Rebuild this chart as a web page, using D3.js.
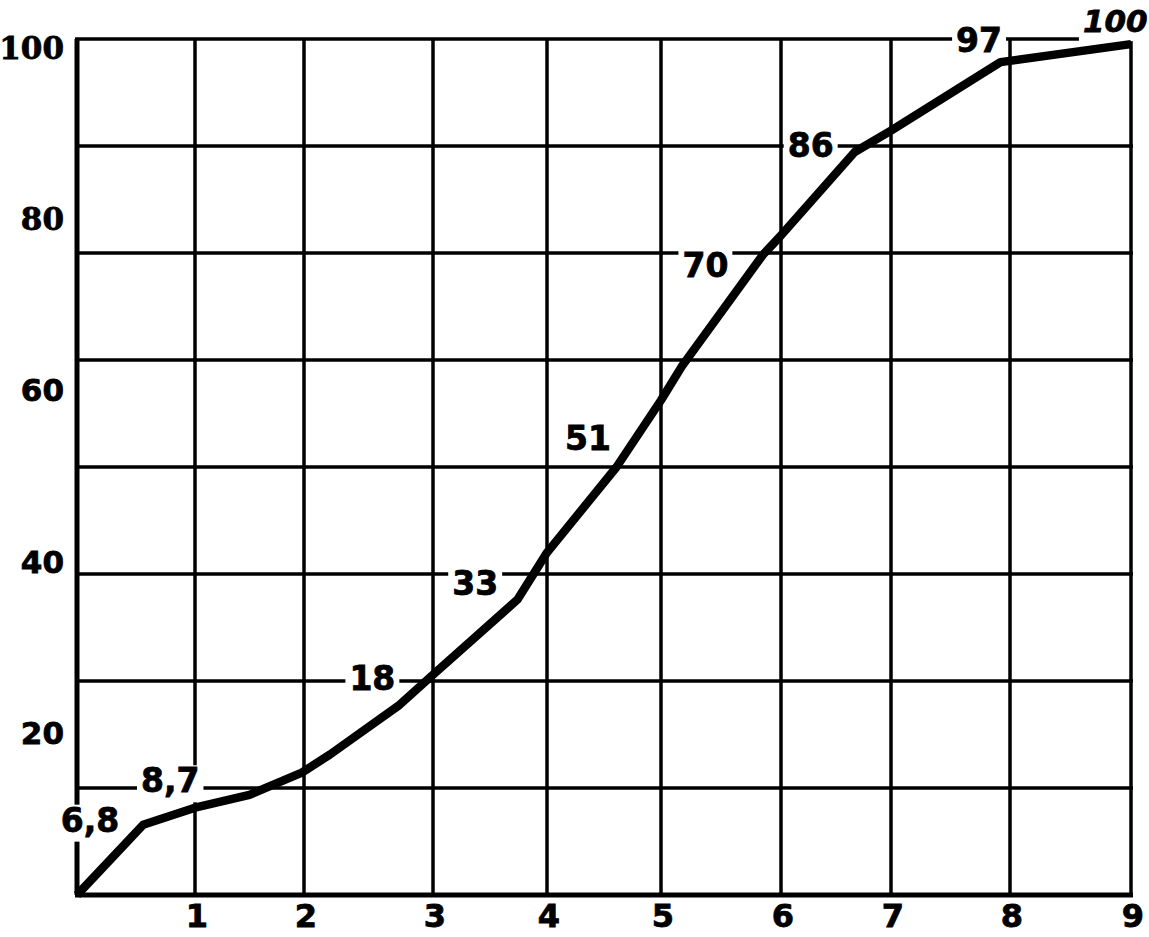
<!DOCTYPE html>
<html>
<head>
<meta charset="utf-8">
<script src="https://cdn.jsdelivr.net/npm/d3@7"></script>
<style>
  body { margin: 0; background: #fff; }
  svg { display: block; }
  text { font-family: "DejaVu Sans", sans-serif; font-weight: bold; fill: #000; stroke: #000; stroke-width: 0.8px; }
</style>
</head>
<body>
<svg id="chart" width="1149" height="937"></svg>
<script>
// x positions of the curve (units on the bottom axis)
const xValues = [0, 0.56, 1.0, 1.5, 1.98, 2.2, 2.74, 2.99, 3.74, 4.0, 4.61, 5.0, 5.18, 5.85, 5.99, 6.67, 7.0, 7.92, 9.0];
// y values of the curve (percent)
const yValues = [0, 8.2, 10.2, 11.7, 14.3, 16.4, 22.2, 25.6, 34.5, 40.0, 50.0, 57.8, 61.9, 74.8, 76.9, 86.8, 89.3, 97.3, 99.4];

// value labels written along the curve, and where they sit (data units)
const labelTexts = ["6,8", "8,7", "18", "33", "51", "70", "86", "97", "100"];
const labelX = [0.11, 0.79, 2.53, 3.37, 4.36, 5.37, 6.27, 7.74, 8.87];
const labelY = [7.4, 12.0, 23.9, 35.0, 52.0, 72.2, 86.2, 98.5, 100.8];

const xTicks = [1, 2, 3, 4, 5, 6, 7, 8, 9];
const yTicks = [20, 40, 60, 80, 100];
const yGrid = [0, 12.5, 25, 37.5, 50, 62.5, 75, 87.5, 100];

const svg = d3.select('#chart');

// the hand drawn grid is not evenly spaced, so map each unit to its column
const x = d3.scaleLinear()
    .domain(d3.range(0, 10))
    .range([77, 195, 304, 433, 547, 661, 781, 891, 1010, 1131]);

const y = d3.scaleLinear()
    .domain([0, 100])
    .range([895, 39]);

// grid
const grid = svg.append('g');
grid.selectAll('line.v')
    .data(d3.range(0, 10))
    .join('line')
    .attr('class', 'v')
    .attr('x1', d => x(d)).attr('x2', d => x(d))
    .attr('y1', y(100)).attr('y2', y(0))
    .attr('stroke', '#000')
    .attr('stroke-width', d => (d === 0 ? 5 : 3.5));

grid.selectAll('line.h')
    .data(yGrid)
    .join('line')
    .attr('class', 'h')
    .attr('x1', x(0) - 2).attr('x2', x(9) + 2)
    .attr('y1', d => y(d)).attr('y2', d => y(d))
    .attr('stroke', '#000')
    .attr('stroke-width', d => (d === 0 ? 5 : 3.5));

// y tick labels
svg.append('g')
    .selectAll('text')
    .data(yTicks)
    .join('text')
    .attr('x', 64)
    .attr('y', d => y(d) + 20)
    .attr('text-anchor', 'end')
    .style('font-size', '31px')
    .style('font-family', d => (d >= 80 ? '"DejaVu Serif", serif' : null))
    .text(d => d);

// x tick labels
svg.append('g')
    .selectAll('text')
    .data(xTicks)
    .join('text')
    .attr('x', d => x(d) + 2)
    .attr('y', 927)
    .attr('text-anchor', 'middle')
    .style('font-size', '32px')
    .text(d => d);

// value labels: white boxes knock the grid out behind them
const labels = labelTexts.map((t, i) => ({ text: t, x: labelX[i], y: labelY[i] }));
const boxLayer = svg.append('g');
const lineLayer = svg.append('g');
const labelLayer = svg.append('g');

const labelNodes = labelLayer.selectAll('text')
    .data(labels)
    .join('text')
    .attr('x', d => x(d.x))
    .attr('y', d => y(d.y))
    .attr('text-anchor', 'middle')
    .style('font-size', d => (d.text === '100' ? '31px' : '33px'))
    .style('font-style', d => (d.text === '100' ? 'italic' : null))
    .text(d => d.text);

labelNodes.each(function () {
    const b = this.getBBox();
    boxLayer.append('rect')
        .attr('x', b.x - 4)
        .attr('y', b.y + 4)
        .attr('width', b.width + 8)
        .attr('height', b.height - 2)
        .attr('fill', '#fff');
});

// the curve
const points = xValues.map((v, i) => [v, yValues[i]]);
lineLayer.append('path')
    .datum(points)
    .attr('fill', 'none')
    .attr('stroke', '#000')
    .attr('stroke-width', 8.5)
    .attr('stroke-linejoin', 'round')
    .attr('d', d3.line().x(d => x(d[0])).y(d => y(d[1])));
</script>
</body>
</html>
